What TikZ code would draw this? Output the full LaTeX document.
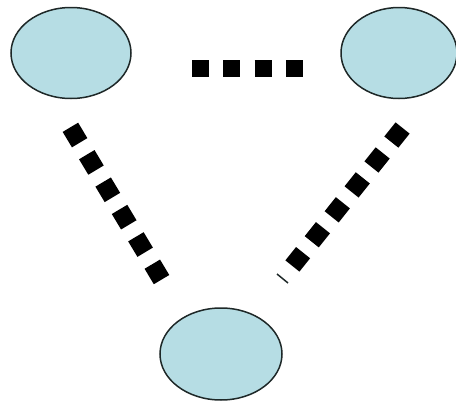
\documentclass[tikz,border=0pt]{standalone}
\definecolor{ellfill}{RGB}{182,221,228}
\definecolor{ellline}{RGB}{30,40,40}
\tikzset{
  blob/.style={ellipse, draw=ellline, fill=ellfill, line width=1.5pt, inner sep=0pt},
  sqline/.style={line width=17pt, line cap=butt, dash pattern=on 17pt off 14.3pt},
  sqdiag/.style={line width=18pt, line cap=butt, dash pattern=on 18pt off 13.9pt},
}
\usetikzlibrary{shapes.geometric}
\begin{document}
\begin{tikzpicture}[x=1pt,y=-1pt]
\useasboundingbox (0,0) rectangle (456,402);
\node[blob, minimum width=120pt, minimum height=91pt] (tl) at (71,53) {};
\node[blob, minimum width=116pt, minimum height=91pt] (tr) at (399,53) {};
\node[blob, minimum width=122pt, minimum height=92pt] (bt) at (221,354) {};
\coordinate (h1) at (192,68);
\coordinate (h2) at (303,68);
\coordinate (l1) at (70.4,127.3);
\coordinate (l2) at (161.6,279.7);
\coordinate (r1) at (402.6,128);
\coordinate (r2) at (292.4,266);
\coordinate (s1) at (277,274);
\coordinate (s2) at (288,283);
\draw[sqline] (h1) -- (h2);
\draw[sqdiag] (l1) -- (l2);
\draw[sqdiag] (r1) -- (r2);
\draw[line width=1.5pt, draw=ellline] (s1) -- (s2);
\end{tikzpicture}
\end{document}
